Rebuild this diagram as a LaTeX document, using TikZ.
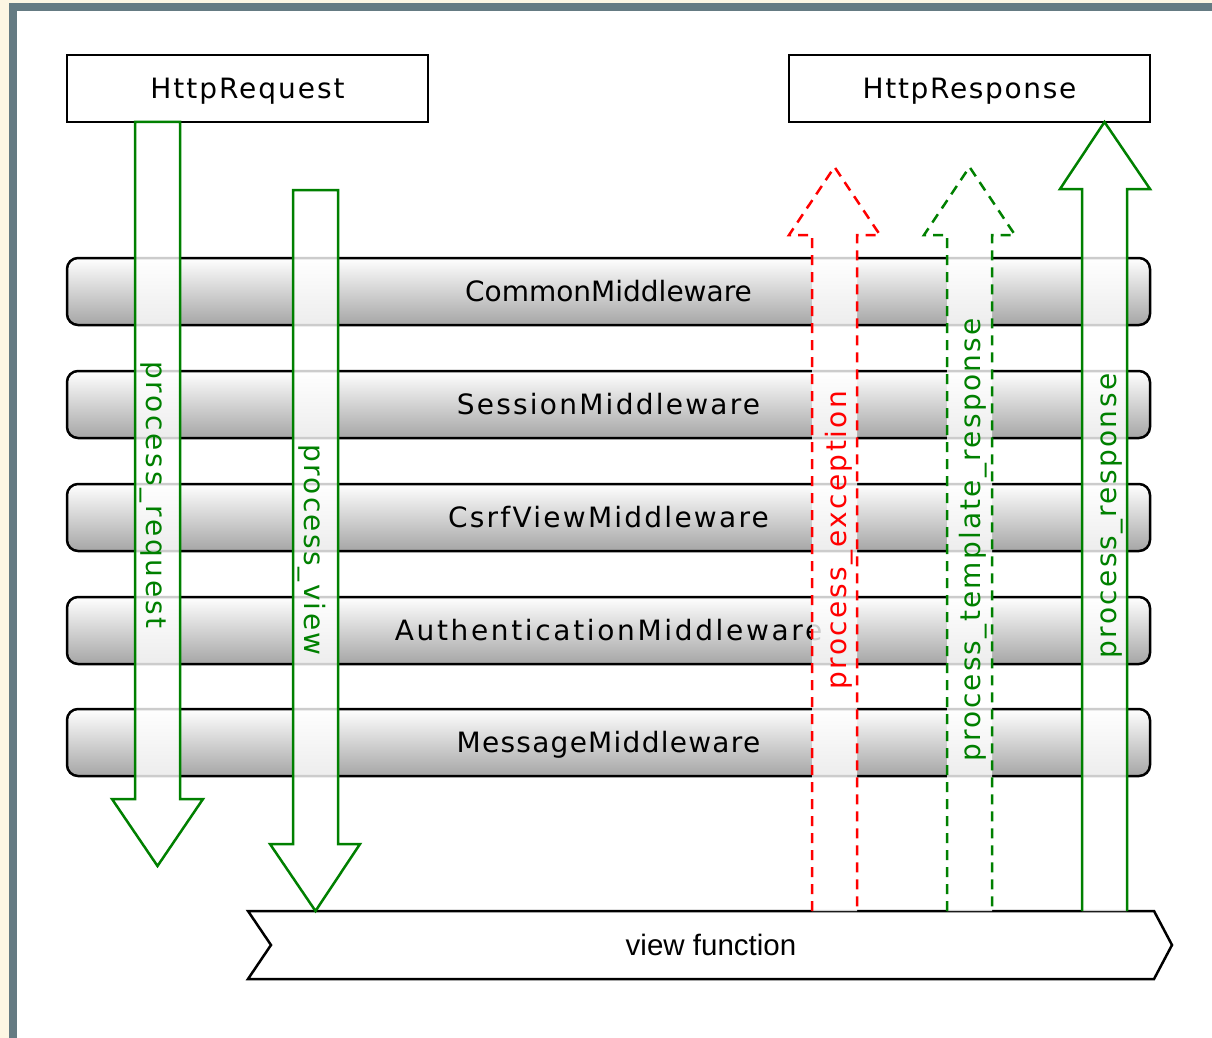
\documentclass[tikz,border=0pt]{standalone}
\usepackage{fontspec}
\setmainfont{DejaVu Sans}
\newfontfamily\viewfont{Liberation Sans}
\usetikzlibrary{positioning}

\definecolor{paper}{RGB}{253,246,227}
\definecolor{slate}{RGB}{101,123,131}
\definecolor{okgreen}{RGB}{0,128,0}

\tikzset{
    box/.style={draw, line width=2.5pt, minimum width=361pt, minimum height=67pt, inner sep=0pt},
    bar/.style={draw, line width=2.5pt, rounded corners=11pt, minimum width=1083pt, minimum height=67pt,
                inner sep=0pt, top color=white, bottom color=black!35},
    flow/.style={line width=2.5pt, fill=white, fill opacity=0.8},
    lbl/.style={font=\fontsize{28}{33}\selectfont\addfontfeature{LetterSpace=#1}, inner sep=0pt,
                text height=20pt, text depth=0pt},
    lbl/.default=0
}

\begin{document}
\begin{tikzpicture}[x=1pt, y=-1pt]
    \useasboundingbox (0,0) rectangle (1212,1038);

    % frame
    \fill [paper] (0,0) rectangle (1212,1038);
    \fill [slate] (9,3) rectangle (1212,1038);
    \fill [white] (17,11) rectangle (1212,1038);

    \node [box, lbl=7] (req) at (247.5, 88.5) {HttpRequest};
    \node [box, lbl=6] (resp) at (969.5, 88.5) {HttpResponse};

    \foreach \name/\y/\sp in {CommonMiddleware/291.5/0, SessionMiddleware/404.5/8, CsrfViewMiddleware/517.5/8,
                              AuthenticationMiddleware/630.5/9.5, MessageMiddleware/742.5/4.5}{
        \node [bar, lbl=\sp] (\name) at (608.5, \y) {\name};
    }

    % view function
    \draw [line width=2.5pt] (248,911) -- (1154,911) -- (1172,945) -- (1154,979) -- (248,979) -- (271,945) -- cycle;
    \node [font=\viewfont\fontsize{29.5}{34}\selectfont, inner sep=0pt] (view) at (711, 945) {view function};

    % going down
    \draw [flow, draw=okgreen] (135,122) -- (180,122) -- (180,799) -- (203,799) -- (157.5,866) -- (112,799) -- (135,799) -- cycle;
    \draw [flow, draw=okgreen] (293,190) -- (338,190) -- (338,844) -- (360,844) -- (315.5,911) -- (270,844) -- (293,844) -- cycle;

    % going up
    \draw [flow, draw=red, dash pattern=on 10pt off 7pt] (812,911) -- (812,235) -- (789,235) -- (834.5,167) -- (880,235) -- (857,235) -- (857,911);
    \draw [flow, draw=okgreen, dash pattern=on 10pt off 7pt] (947,911) -- (947,235) -- (924,235) -- (969.5,167) -- (1015,235) -- (992,235) -- (992,911);
    \draw [flow, draw=okgreen] (1082,911) -- (1082,189) -- (1060,189) -- (1104.5,122) -- (1150,189) -- (1127,189) -- (1127,911);

    \node [lbl=10, text=okgreen, rotate=-90] (preq) at (156, 495) {process\_request};
    \node [lbl=8, text=okgreen, rotate=-90] (pview) at (314, 550) {process\_view};
    \node [lbl=9, text=red, rotate=90] (pexc) at (836, 540) {process\_exception};
    \node [lbl=8, text=okgreen, rotate=90] (ptpl) at (970, 540) {process\_template\_response};
    \node [lbl=8.5, text=okgreen, rotate=90] (presp) at (1106, 516) {process\_response};
\end{tikzpicture}
\end{document}
